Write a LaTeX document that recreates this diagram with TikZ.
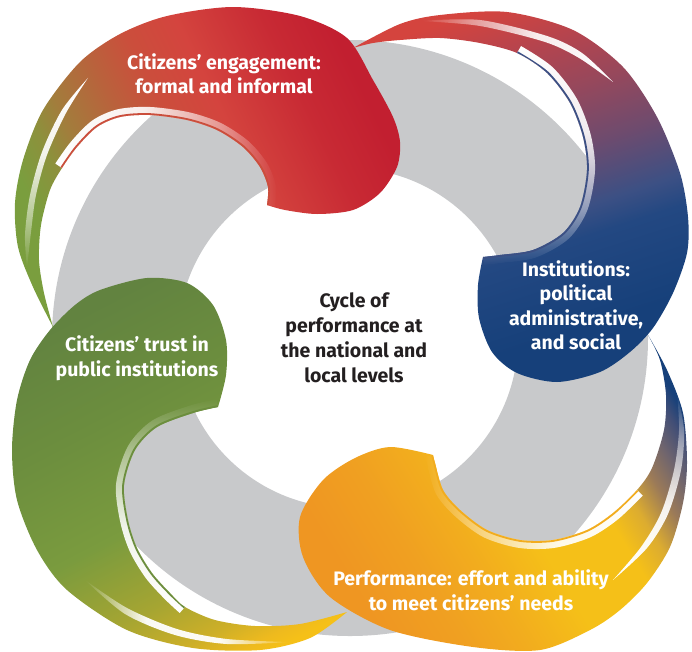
\documentclass[tikz,border=0pt]{standalone}
\usepackage{fontspec}
\setmainfont{Fira Sans}
\usetikzlibrary{fadings}
\definecolor{ringgrey}{RGB}{200,201,203}
\definecolor{textdark}{RGB}{35,31,32}
\definecolor{greenA}{RGB}{122,158,62}
\definecolor{olA}{RGB}{140,145,60}
\definecolor{olB}{RGB}{162,125,60}
\definecolor{brA}{RGB}{185,98,60}
\definecolor{brB}{RGB}{203,78,60}
\definecolor{redB}{RGB}{212,68,62}
\definecolor{redC}{RGB}{200,42,52}
\definecolor{redA}{RGB}{194,31,48}
\definecolor{blueA}{RGB}{22,64,122}
\definecolor{blueC}{RGB}{35,72,130}
\definecolor{blueB}{RGB}{60,80,132}
\definecolor{purA}{RGB}{110,75,110}
\definecolor{purB}{RGB}{150,72,92}
\definecolor{purC}{RGB}{180,68,78}
\definecolor{yellowB}{RGB}{245,192,24}
\definecolor{ylA}{RGB}{238,186,30}
\definecolor{ylB}{RGB}{205,175,40}
\definecolor{ylC}{RGB}{165,165,50}
\definecolor{grA}{RGB}{122,155,62}
\definecolor{grC}{RGB}{108,142,62}
\definecolor{greenB}{RGB}{98,131,64}
\definecolor{yellowA}{RGB}{239,150,34}
\definecolor{orB}{RGB}{240,160,33}
\definecolor{orC}{RGB}{242,172,30}
\definecolor{gdA}{RGB}{220,172,48}
\definecolor{gdB}{RGB}{155,122,88}
\definecolor{gdC}{RGB}{110,100,110}
\definecolor{gdD}{RGB}{65,78,118}
\pgfdeclareverticalshading{redsh}{100bp}{color(0bp)=(greenA); color(26bp)=(greenA); color(31bp)=(olA); color(35bp)=(olB); color(42bp)=(brA); color(48bp)=(brB); color(55bp)=(redB); color(66bp)=(redC); color(74bp)=(redA); color(100bp)=(redA)}
\pgfdeclareverticalshading{bluesh}{100bp}{color(0bp)=(blueA); color(30bp)=(blueA); color(42bp)=(blueC); color(46bp)=(blueB); color(54bp)=(purA); color(62bp)=(purB); color(69bp)=(purC); color(76bp)=(redB); color(100bp)=(redB)}
\pgfdeclareverticalshading{greensh}{100bp}{color(0bp)=(yellowB); color(21bp)=(yellowB); color(23bp)=(ylA); color(27bp)=(ylB); color(34bp)=(ylC); color(45bp)=(grA); color(60bp)=(grC); color(75bp)=(greenB); color(100bp)=(greenB)}
\pgfdeclareverticalshading{yellowsh}{100bp}{color(0bp)=(yellowA); color(27bp)=(yellowA); color(36bp)=(orB); color(43bp)=(orC); color(52bp)=(yellowB); color(62bp)=(yellowB); color(66bp)=(gdA); color(70bp)=(gdB); color(73.5bp)=(gdC); color(76.5bp)=(gdD); color(78.5bp)=(blueA); color(100bp)=(blueA)}
\pgfdeclarehorizontalshading{fadeLsh}{100bp}{color(0bp)=(white); color(25bp)=(white); color(45bp)=(black!10); color(62bp)=(black!55); color(75bp)=(black); color(100bp)=(black)}
\pgfdeclarehorizontalshading{fadeRsh}{100bp}{color(0bp)=(black); color(25bp)=(black); color(38bp)=(black!55); color(55bp)=(black!10); color(75bp)=(white); color(100bp)=(white)}
\pgfdeclarehorizontalshading{fadeMsh}{100bp}{color(0bp)=(black); color(25bp)=(black); color(40bp)=(black!5); color(58bp)=(black!5); color(75bp)=(black); color(100bp)=(black)}
\pgfdeclareverticalshading{fadeTsh}{100bp}{color(0bp)=(black); color(25bp)=(black); color(38bp)=(black!55); color(55bp)=(black!10); color(75bp)=(white); color(100bp)=(white)}
\pgfdeclareverticalshading{fadeBsh}{100bp}{color(0bp)=(white); color(25bp)=(white); color(45bp)=(black!10); color(62bp)=(black!55); color(75bp)=(black); color(100bp)=(black)}
\tikzfading[name=fadeL, shading=fadeLsh]
\tikzfading[name=fadeR, shading=fadeRsh]
\tikzfading[name=fadeM, shading=fadeMsh]
\tikzfading[name=fadeT, shading=fadeTsh]
\tikzfading[name=fadeB, shading=fadeBsh]
\tikzset{lbl/.style={text=white, font=\bfseries\fontsize{19.5}{24.5}\selectfont, align=center}}
\tikzset{ctr/.style={text=textdark, font=\bfseries\fontsize{19.5}{25}\selectfont, align=center}}
\tikzset{band/.style={white, line width=16pt}}
\tikzset{edge/.style={line width=3.6pt}}
\newcommand{\redpath}{plot[smooth] coordinates {(53,327) (33,287) (18,247) (15,203) (23,160) (43,110) (80,62) (120,34) (167,16) (233,7) (300,16) (347,38) (373,80) (393,117) (400,142) (397,167) (380,193) (353,210) (317,214) (285,210) (267,205)} -- plot[smooth] coordinates {(267,205) (268,187) (260,167) (243,147) (217,130) (187,120) (150,115) (120,117) (97,127) (77,147) (62,168) (50,190) (41,225) (39,260) (44,293) (53,327)} -- cycle}
\newcommand{\rednotch}{plot[smooth] coordinates {(267,205) (268,187) (260,167) (243,147) (217,130) (187,120) (150,115) (120,117) (97,127) (77,147) (62,168)}}
\newcommand{\redstreak}{plot[smooth] coordinates {(88,78) (62,110) (42,152) (30,195) (25,235) (27,268)} -- plot[smooth] coordinates {(27,268) (31,232) (36,195) (47,155) (66,113) (88,78)} -- cycle}
\newcommand{\bluepath}{plot[smooth] coordinates {(353,48) (400,24) (440,15) (507,12) (573,30) (623,67) (657,117) (680,173) (688,217) (687,253) (673,293) (653,328) (630,352) (600,372) (557,382) (517,373) (492,352) (479,318) (478,285) (483,257)} -- plot[smooth] coordinates {(483,257) (500,255) (533,250) (563,233) (580,207) (587,170) (583,137) (570,103) (547,73) (517,53) (480,43) (440,38) (400,40) (373,43) (353,48)} -- cycle}
\newcommand{\bluenotch}{plot[smooth] coordinates {(483,257) (500,255) (533,250) (563,233) (580,207) (587,170) (583,137) (570,103) (547,73) (517,53)}}
\newcommand{\bluestreak}{plot[smooth] coordinates {(420,21) (480,20) (547,36) (582,53) (613,82)} -- plot[smooth] coordinates {(613,82) (579,58) (545,42) (480,26) (420,21)} -- cycle}
\newcommand{\greenpath}{plot[smooth] coordinates {(347,612) (310,638) (260,650) (193,648) (127,630) (67,590) (37,550) (17,500) (12,450) (17,400) (30,360) (50,330) (75,305) (100,290) (147,278) (187,283) (213,305) (226,340) (226,375) (218,407)} -- plot[smooth] coordinates {(218,407) (193,413) (157,427) (135,450) (124,485) (128,520) (137,548) (152,573) (170,593) (185,607) (215,620) (255,626) (300,624) (347,612)} -- cycle}
\newcommand{\greennotch}{plot[smooth] coordinates {(218,407) (193,413) (157,427) (135,450) (124,485) (128,520) (137,548) (152,573) (170,593) (185,607)}}
\newcommand{\greenstreak}{plot[smooth] coordinates {(85,580) (127,608) (177,629) (227,639) (290,642)} -- plot[smooth] coordinates {(290,642) (227,644) (175,635) (125,614) (85,580)} -- cycle}
\newcommand{\yellowpath}{plot[smooth] coordinates {(648,335) (667,370) (683,413) (687,463) (683,503) (670,547) (647,583) (620,610) (590,630) (540,650) (473,647) (390,630) (330,597) (303,557) (300,517) (323,480) (355,458) (390,447) (433,455)} -- plot[smooth] coordinates {(433,455) (435,463) (443,490) (460,510) (487,530) (520,540) (553,540) (587,530) (613,513) (637,490) (652,468) (664,430) (666,395) (660,360) (648,335)} -- cycle}
\newcommand{\yellownotch}{plot[smooth] coordinates {(433,455) (435,463) (443,490) (460,510) (487,530) (520,540) (553,540) (587,530) (613,513) (637,490)}}
\newcommand{\yellowstreak}{plot[smooth] coordinates {(677,393) (679,430) (674,470) (661,513) (641,547) (613,580)} -- plot[smooth] coordinates {(613,580) (647,548) (668,514) (681,470) (684,430) (677,393)} -- cycle}
\begin{document}
\begin{tikzpicture}[x=1pt, y=-1pt]
\useasboundingbox (0,0) rectangle (692,651);
\fill[ringgrey, even odd rule] (350,338) circle[radius=298] (348,338) circle[radius=170];
\shade[shading=redsh, shading angle=-64] \redpath;
\begin{scope}
  \clip \redpath;
  \draw[band, path fading=fadeL] \rednotch;
  \draw[edge, brB] \rednotch;
\end{scope}
\fill[white, path fading=fadeT] \redstreak;
\shade[shading=bluesh, shading angle=18] \bluepath;
\begin{scope}
  \clip \bluepath;
  \draw[band, path fading=fadeT] \bluenotch;
  \draw[edge, blueB] \bluenotch;
\end{scope}
\fill[white, path fading=fadeR] \bluestreak;
\shade[shading=greensh, shading angle=27.5] \greenpath;
\begin{scope}
  \clip \greenpath;
  \draw[band, path fading=fadeB] \greennotch;
  \draw[edge, grC] \greennotch;
\end{scope}
\fill[white, path fading=fadeM] \greenstreak;
\shade[shading=yellowsh, shading angle=-58.6] \yellowpath;
\begin{scope}
  \clip \yellowpath;
  \draw[band, path fading=fadeR] \yellownotch;
  \draw[edge, orC] \yellownotch;
\end{scope}
\fill[white, path fading=fadeB] \yellowstreak;
\node[lbl] (engage) at (224,74) {Citizens’ engagement:\\formal and informal};
\node[lbl] (inst) at (576,305) {Institutions:\\political\\administrative,\\and social};
\node[lbl] (perf) at (471,590) {Performance: effort and ability\\to meet citizens’ needs};
\node[lbl] (trust) at (137,358) {Citizens’ trust in\\public institutions};
\node[ctr] (cycle) at (354,338) {Cycle of\\performance at\\the national and\\local levels};
\end{tikzpicture}
\end{document}
